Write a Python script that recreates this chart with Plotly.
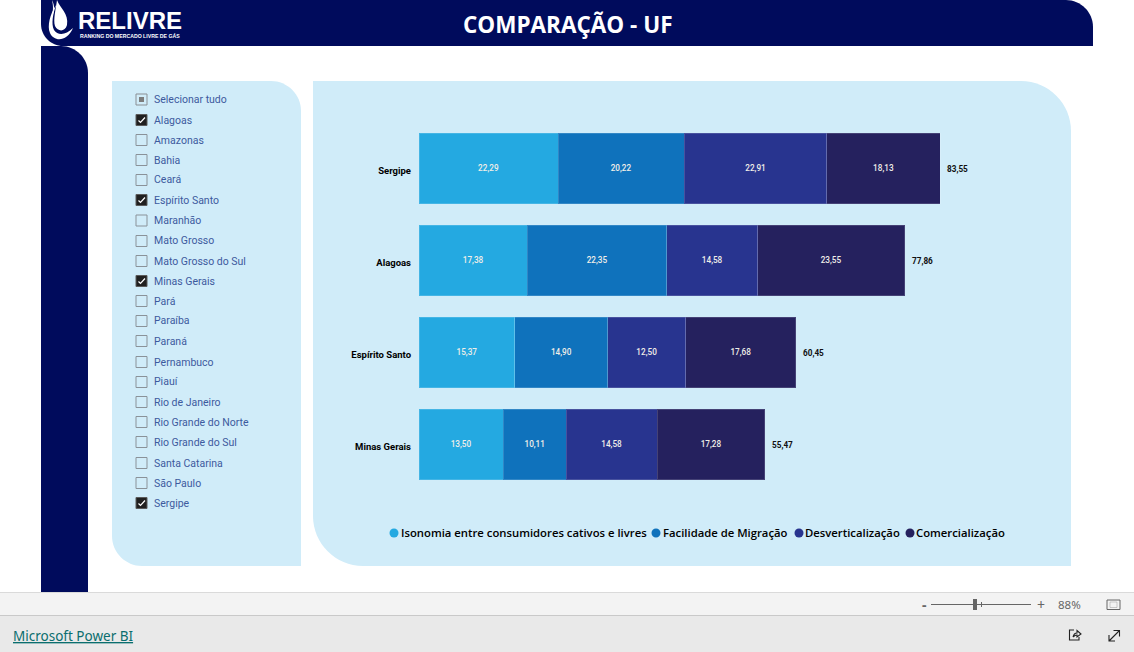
import plotly.graph_objects as go

W, H = 1134, 652

# ---- data ----
states = ["Sergipe", "Alagoas", "Espírito Santo", "Minas Gerais"]
series_names = ["Isonomia entre consumidores cativos e livres", "Facilidade de Migração",
                "Desverticalização", "Comercialização"]
isonomia = [22.29, 17.38, 15.37, 13.50]
facilidade = [20.22, 22.35, 14.90, 10.11]
desvert = [22.91, 14.58, 12.50, 14.58]
comerc = [18.13, 23.55, 17.68, 17.28]
totals = [83.55, 77.86, 60.45, 55.47]
series_colors = ["#24A9E1", "#0F72BC", "#28348F", "#25215E"]

slicer_items = ["Selecionar tudo", "Alagoas", "Amazonas", "Bahia", "Ceará", "Espírito Santo", "Maranhão",
                "Mato Grosso", "Mato Grosso do Sul", "Minas Gerais", "Pará", "Paraíba", "Paraná",
                "Pernambuco", "Piauí", "Rio de Janeiro", "Rio Grande do Norte", "Rio Grande do Sul",
                "Santa Catarina", "São Paulo", "Sergipe"]
slicer_checked = ["Alagoas", "Espírito Santo", "Minas Gerais", "Sergipe"]
slicer_y = [99.5, 120, 140, 160, 180, 200, 220.5, 241, 261, 281, 301, 321, 341, 362, 382, 402, 422, 442, 463, 483, 503]

NAVY = "#000B5C"
PANEL = "#D0ECF9"
fmt = lambda v: f"{v:.2f}".replace(".", ",")

# ---- pixel helpers for page furniture ----
fx = lambda x: x / W
fy = lambda y: 1 - y / H


def path(*cmds):
    out = []
    for c in cmds:
        letter, pts = c[0], c[1:]
        coords = " ".join(f"{fx(pts[i]):.5f},{fy(pts[i+1]):.5f}" for i in range(0, len(pts), 2))
        out.append(f"{letter} {coords}")
    return " ".join(out) + " Z"


def rounded(x0, y0, x1, y1, tl=0, tr=0, br=0, bl=0):
    k = 0.45  # control-point inset for a circular arc
    return path(("M", x0 + tl, y0), ("L", x1 - tr, y0),
                ("C", x1 - tr * k, y0, x1, y0 + tr * k, x1, y0 + tr),
                ("L", x1, y1 - br),
                ("C", x1, y1 - br * k, x1 - br * k, y1, x1 - br, y1),
                ("L", x0 + bl, y1),
                ("C", x0 + bl * k, y1, x0, y1 - bl * k, x0, y1 - bl),
                ("L", x0, y0 + tl),
                ("C", x0, y0 + tl * k, x0 + tl * k, y0, x0 + tl, y0))


shapes, ann = [], []


def fill_path(d, color, line=None, lw=0, layer="below"):
    shapes.append(dict(type="path", path=d, xref="paper", yref="paper", fillcolor=color,
                       line=dict(color=line or "rgba(0,0,0,0)", width=lw), layer=layer))


def line_path(x0, y0, x1, y1, color, lw=1):
    shapes.append(dict(type="line", xref="paper", yref="paper", x0=fx(x0), y0=fy(y0), x1=fx(x1), y1=fy(y1),
                       line=dict(color=color, width=lw), layer="below"))


def rect(x0, y0, x1, y1, color, line=None, lw=0):
    shapes.append(dict(type="rect", xref="paper", yref="paper", x0=fx(x0), y0=fy(y0), x1=fx(x1), y1=fy(y1),
                       fillcolor=color, line=dict(color=line or "rgba(0,0,0,0)", width=lw), layer="below"))


def circle(cx, cy, r, color):
    shapes.append(dict(type="circle", xref="paper", yref="paper", x0=fx(cx - r), y0=fy(cy + r), x1=fx(cx + r),
                       y1=fy(cy - r), fillcolor=color, line=dict(width=0), layer="below"))


def text(x, y, s, size, color, family, anchor="left", bold=False, weight=None):
    font = dict(size=size, color=color, family=family)
    if weight:
        font["weight"] = weight
    ann.append(dict(x=fx(x), y=fy(y), xref="paper", yref="paper", xanchor=anchor, yanchor="middle", showarrow=False,
                    text=f"<b>{s}</b>" if bold else s, font=font, borderpad=0, borderwidth=0))


# header + sidebar
fill_path(rounded(41, 0, 1093, 46, tr=27, bl=22), NAVY)
fill_path(rounded(41, 46, 88, 592, tr=27), NAVY)
# flame
fill_path(path(("M", 52, 0), ("C", 55, 6, 55, 12, 51, 18), ("C", 54, 10, 53, 5, 52, 0)), "#FFFFFF")
fill_path(path(("M", 57, 0), ("C", 60, 8, 69, 14, 67, 25), ("C", 65, 32, 58, 32, 55, 26),
               ("C", 53, 20, 56, 8, 57, 0)), "#FFFFFF")
fill_path(path(("M", 56, 5), ("C", 50, 14, 47, 26, 50, 33), ("C", 54, 42, 67, 42, 73, 28),
               ("C", 66, 35, 58, 36, 54, 30), ("C", 51, 24, 53, 14, 56, 5)), "#FFFFFF")
text(78, 20, "RELIVRE", 24, "#FFFFFF", "Liberation Sans", bold=True)
text(80, 36.5, "RANKING DO MERCADO LIVRE DE GÁS", 5.2, "#FFFFFF", "Liberation Sans", bold=True)
text(567.5, 24.5, "COMPARAÇÃO - UF", 22.5, "#FFFFFF", "Open Sans", anchor="center", bold=True)

# panels
fill_path(rounded(112, 81, 301, 566, tr=30, bl=30), PANEL)
fill_path(rounded(313, 81, 1071, 566, tr=50, bl=50), PANEL)

# slicer
for name, y in zip(slicer_items, slicer_y):
    x0, x1, y0, y1 = 136, 147, y - 5.5, y + 5.5
    if name == "Selecionar tudo":
        rect(x0, y0, x1, y1, "rgba(0,0,0,0)", "#8A8F94", 1)
        rect(x0 + 3, y0 + 3, x1 - 3, y1 - 3, "#7C7C7C")
    elif name in slicer_checked:
        rect(x0, y0, x1, y1, "#202020", "#5B5B5B", 1)
        shapes.append(dict(type="path", xref="paper", yref="paper", layer="below",
                           path=" ".join([f"M {fx(x0+2.5):.5f},{fy(y+0.5):.5f}",
                                          f"L {fx(x0+4.5):.5f},{fy(y+2.5):.5f}",
                                          f"L {fx(x0+9):.5f},{fy(y-2.5):.5f}"]),
                           line=dict(color="#FFFFFF", width=1.2)))
    else:
        rect(x0, y0, x1, y1, "rgba(0,0,0,0)", "#8A9299", 1)
    text(154, y, name, 10.5, "#3D5A9E", "Roboto")

# legend (hand placed, tight to the swatches)
legend_swatch_x = [394, 656, 799, 910]
legend_text_x = [401, 662.5, 805, 916]
for name, color, sx, tx in zip(series_names, series_colors, legend_swatch_x, legend_text_x):
    circle(sx, 533, 4.5, color)
    text(tx, 532.5, name, 11.3, "#000000", "Open Sans", weight=600)

# footer
rect(0, 592, W, 615, "#F3F3F3")
rect(0, 615, W, 652, "#E9E9E9")
line_path(0, 592.5, W, 592.5, "#DADADA")
line_path(0, 615.5, W, 615.5, "#C9C9C9")
text(13, 636, "<u>Microsoft Power BI</u>", 13.5, "#0B6E6E", "Noto Sans")
text(924.5, 604, "-", 14, "#666666", "Noto Sans", anchor="center", bold=True)
line_path(931, 604.5, 1031, 604.5, "#666666")
rect(973, 599, 977, 610, "#666666")
line_path(981.5, 602, 981.5, 607, "#666666")
text(1041, 604, "+", 14, "#666666", "Noto Sans", anchor="center")
text(1069.5, 604.5, "88%", 11.5, "#666666", "Noto Sans", anchor="center")
shapes.append(dict(type="rect", xref="paper", yref="paper", x0=fx(1107), y0=fy(609.5), x1=fx(1120), y1=fy(600),
                   line=dict(color="#666666", width=1), fillcolor="rgba(0,0,0,0)", layer="below"))
rect(1110, 602, 1117, 607.5, "#F3F3F3", "#9A9A9A", 0.5)
# share icon
shapes.append(dict(type="path", xref="paper", yref="paper", layer="below", line=dict(color="#222222", width=1.1),
                   path=" ".join([f"M {fx(1074):.5f},{fy(630):.5f}", f"L {fx(1069.5):.5f},{fy(630):.5f}",
                                  f"L {fx(1069.5):.5f},{fy(640):.5f}", f"L {fx(1079):.5f},{fy(640):.5f}",
                                  f"L {fx(1079):.5f},{fy(637):.5f}",
                                  f"M {fx(1073):.5f},{fy(637):.5f}", f"Q {fx(1074):.5f},{fy(633):.5f} {fx(1077):.5f},{fy(633):.5f}",
                                  f"L {fx(1077):.5f},{fy(630.5):.5f}", f"L {fx(1081):.5f},{fy(634):.5f}",
                                  f"L {fx(1077):.5f},{fy(637):.5f}", f"L {fx(1077):.5f},{fy(635):.5f}",
                                  f"Q {fx(1075):.5f},{fy(635):.5f} {fx(1073):.5f},{fy(637):.5f}"])))
# expand icon
shapes.append(dict(type="path", xref="paper", yref="paper", layer="below", line=dict(color="#222222", width=1.1),
                   path=" ".join([f"M {fx(1109):.5f},{fy(641):.5f}", f"L {fx(1119.5):.5f},{fy(630.5):.5f}",
                                  f"M {fx(1113.5):.5f},{fy(630.5):.5f}", f"L {fx(1119.5):.5f},{fy(630.5):.5f}",
                                  f"L {fx(1119.5):.5f},{fy(636.5):.5f}",
                                  f"M {fx(1109):.5f},{fy(635):.5f}", f"L {fx(1109):.5f},{fy(641):.5f}",
                                  f"L {fx(1115):.5f},{fy(641):.5f}"])))

# ---- chart ----
fig = go.Figure()
for name, vals, color in zip(series_names, [isonomia, facilidade, desvert, comerc], series_colors):
    fig.add_trace(go.Bar(
        y=states, x=vals, name=name, orientation="h", showlegend=False,
        marker=dict(color=color, line=dict(color="rgba(255,255,255,0.15)", width=1)),
        text=[fmt(v) for v in vals], textposition="inside", insidetextanchor="middle", textangle=0,
        constraintext="none", cliponaxis=False,
        textfont=dict(size=8.2, color="#F0EEE8", family="Roboto", weight=500),
    ))

for state, total in zip(states, totals):
    ann.append(dict(x=total, y=state, xref="x", yref="y", xanchor="left", yanchor="middle", xshift=5, yshift=-0.5,
                    showarrow=False, text=fmt(total),
                    font=dict(size=8.2, color="#111111", family="Roboto", weight=700)))

PX_PER_UNIT = (940 - 419) / 83.55
fig.update_layout(
    width=W, height=H, autosize=False,
    margin=dict(l=0, r=0, t=0, b=0, pad=0),
    paper_bgcolor="#FFFFFF", plot_bgcolor="rgba(0,0,0,0)",
    barmode="stack", bargap=0.232,
    xaxis=dict(domain=[fx(419), fx(1060)], range=[0, (1060 - 419) / PX_PER_UNIT], visible=False, fixedrange=True),
    yaxis=dict(domain=[fy(490.4), fy(122.4)], autorange="reversed", categoryorder="array", categoryarray=states,
               showgrid=False, zeroline=False, showline=False, ticks="", ticklabelstandoff=7, ticklabelshift=-2,
               tickfont=dict(size=9.5, color="#000000", family="Roboto", weight="bold"), fixedrange=True),
    shapes=shapes, annotations=ann, showlegend=False,
)
fig.write_html("out.html", config=dict(displayModeBar=False),
               post_script="document.body.style.margin='0';document.documentElement.style.overflow='hidden';")
